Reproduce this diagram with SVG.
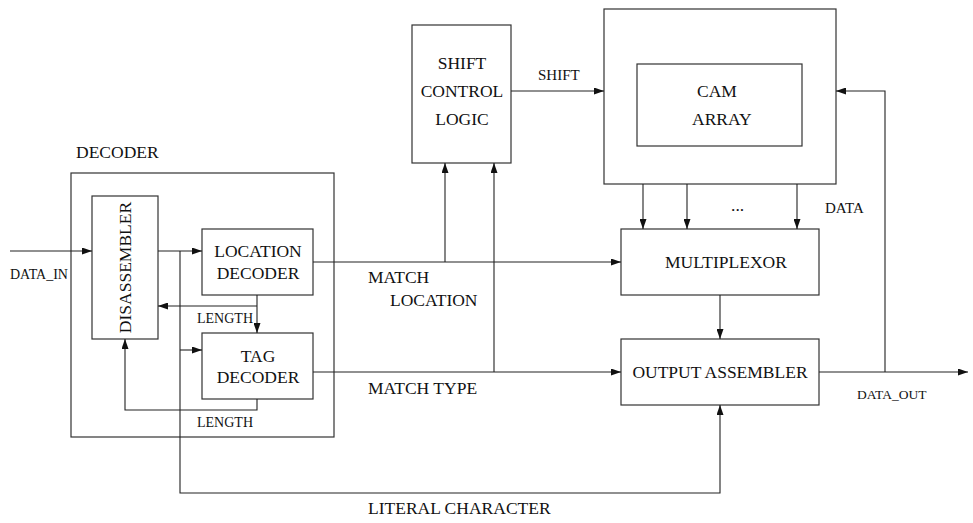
<svg xmlns="http://www.w3.org/2000/svg" width="973" height="523" viewBox="0 0 973 523">
<style>
.box{fill:none;stroke:#333;stroke-width:1.2}
.ln{fill:none;stroke:#222;stroke-width:1.1;marker-end:url(#ah)}
.pl{fill:none;stroke:#222;stroke-width:1.1}
text{font-family:"Liberation Serif","Times New Roman",serif;fill:#111}
.b{font-size:17.5px}
.s{font-size:14px}
.m{text-anchor:middle}
</style>
<defs>
<marker id="ah" markerUnits="userSpaceOnUse" markerWidth="10" markerHeight="7" refX="10" refY="3.5" orient="auto">
<path d="M0,0 L10,3.5 L0,7 z" fill="#111"/>
</marker>
</defs>
<rect width="973" height="523" fill="#fff"/>
<g id="decoder">
<rect class="box" x="71" y="173" width="263" height="264"/>
<text class="b" x="76" y="158">DECODER</text>
</g>
<g id="disassembler">
<rect class="box" x="92" y="196" width="66" height="143"/>
<text class="b m" transform="translate(131,267.5) rotate(-90)">DISASSEMBLER</text>
</g>
<g id="location-decoder">
<rect class="box" x="202" y="229" width="111" height="66"/>
<text class="b m" x="258" y="257">LOCATION</text>
<text class="b m" x="258" y="279">DECODER</text>
</g>
<g id="tag-decoder">
<rect class="box" x="202" y="333" width="111" height="66"/>
<text class="b m" x="258" y="362">TAG</text>
<text class="b m" x="258" y="383">DECODER</text>
</g>
<g id="shift-control">
<rect class="box" x="412" y="25" width="99" height="138"/>
<text class="b m" x="462" y="69">SHIFT</text>
<text class="b m" x="462" y="97">CONTROL</text>
<text class="b m" x="462" y="125">LOGIC</text>
</g>
<g id="cam">
<rect class="box" x="604" y="9" width="232" height="175"/>
<rect class="box" x="637" y="64" width="165" height="82"/>
<text class="b" x="697" y="97">CAM</text>
<text class="b" x="692" y="125">ARRAY</text>
</g>
<g id="multiplexor">
<rect class="box" x="621" y="229" width="198" height="66"/>
<text class="b m" x="726" y="268">MULTIPLEXOR</text>
</g>
<g id="output-assembler">
<rect class="box" x="621" y="339" width="198" height="66"/>
<text class="b m" x="720" y="378">OUTPUT ASSEMBLER</text>
</g>
<g id="connectors">
<path class="ln" d="M10,251 H92"/>
<path class="ln" d="M158,251 H202"/>
<path class="ln" d="M180,251 V493 H720 V405"/>
<path class="ln" d="M180,350 H202"/>
<path class="ln" d="M257,295 V333"/>
<path class="ln" d="M257,306 H158"/>
<path class="ln" d="M257,399 V410 H125 V339"/>
<path class="ln" d="M313,262 H621"/>
<path class="ln" d="M313,372 H621"/>
<path class="ln" d="M445,262 V163"/>
<path class="ln" d="M494,372 V163"/>
<path class="ln" d="M511,91 H604"/>
<path class="ln" d="M819,372 H968"/>
<path class="ln" d="M885,372 V91 H836"/>
<path class="ln" d="M643,184 V229"/>
<path class="ln" d="M687,184 V229"/>
<path class="ln" d="M797,184 V229"/>
<path class="ln" d="M720,295 V339"/>
</g>
<g id="labels">
<text class="s" x="10" y="279">DATA_IN</text>
<text class="s" x="197" y="323">LENGTH</text>
<text class="s" x="197" y="427">LENGTH</text>
<text class="b" x="368" y="283">MATCH</text>
<text class="b" x="390" y="306">LOCATION</text>
<text class="b" x="368" y="394">MATCH TYPE</text>
<text class="b" x="368" y="514">LITERAL CHARACTER</text>
<text class="s" x="538" y="80" style="font-size:15px">SHIFT</text>
<text class="b" x="731" y="211">...</text>
<text class="s" x="825" y="213" style="font-size:15px">DATA</text>
<text class="s" x="857" y="399" style="font-size:13.5px">DATA_OUT</text>
</g>
</svg>
